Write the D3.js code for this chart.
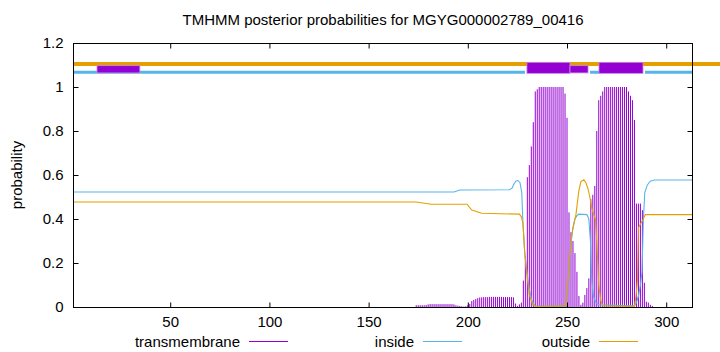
<!DOCTYPE html>
<html>
<head>
<meta charset="utf-8">
<script src="https://cdn.jsdelivr.net/npm/d3@7"></script>
<style>
  body { margin: 0; background: #fff; }
  text { font-family: "Liberation Sans", Arial, sans-serif; font-size: 15px; fill: #000; }
</style>
</head>
<body>
<script>
// chart values
const title = "TMHMM posterior probabilities for MGYG000002789_00416";
const seriesNames = ["transmembrane", "inside", "outside"];
const xTicks = [50, 100, 150, 200, 250, 300];
const yTicks = [0, 0.2, 0.4, 0.6, 0.8, 1, 1.2];

// transmembrane probability, one value per residue starting at tmStart (zero elsewhere)
const tmStart = 172;
const tmProb = [
  0, 0, 0.008, 0.008, 0.008, 0.008, 0.008, 0.009, 0.012, 0.013,
  0.013, 0.013, 0.013, 0.013, 0.013, 0.013, 0.013, 0.013, 0.013, 0.013,
  0.013, 0.012, 0.008, 0.006, 0.005, 0.003, 0.002, 0.003, 0.008, 0.014,
  0.027, 0.032, 0.036, 0.040, 0.043, 0.044, 0.045, 0.045, 0.045, 0.046,
  0.046, 0.046, 0.046, 0.046, 0.046, 0.046, 0.045, 0.045, 0.045, 0.045,
  0.045, 0.044, 0.016, 0.005, 0.012, 0.02, 0.12, 0.23, 0.59, 0.645,
  0.73, 0.84, 0.98, 0.99, 1, 1, 1, 1, 1, 1,
  1, 1, 1, 1, 1, 1, 1, 0.97, 0.86, 0.43,
  0.34, 0.30, 0.245, 0.16, 0.05, 0.01, 0.02, 0.055, 0.086, 0.13,
  0.49, 0.51, 0.55, 0.80, 0.94, 0.96, 0.98, 1, 1, 1,
  1, 1, 1, 1, 1, 1, 1, 1, 1, 0.98,
  0.96, 0.94, 0.85, 0.47, 0.47, 0.47, 0.44, 0.11, 0.024, 0.02,
  0.01, 0.005, 0
];

// inside / outside probability: [residue, probability]
const insidePts = [
  [1, 0.523], [193, 0.523], [196, 0.532], [221, 0.533], [222.3, 0.54], [223.3, 0.56],
  [224.3, 0.573], [225.3, 0.575], [226.3, 0.565], [227.2, 0.52], [227.8, 0.38],
  [228.7, 0.245], [229.5, 0.18], [230.8, 0.09], [232.2, 0.03], [234, 0.003],
  [249, 0.003], [250, 0.05], [251, 0.16], [252, 0.29], [253, 0.36], [254, 0.40],
  [255, 0.415], [256, 0.422], [260, 0.42], [261, 0.40], [261.8, 0.3], [262.5, 0.12],
  [263.3, 0.05], [264.5, 0.02], [266, 0.01], [284, 0.005], [285, 0.02], [286, 0.05],
  [287, 0.10], [287.8, 0.16], [288.5, 0.40], [289.2, 0.52], [290.5, 0.555],
  [292, 0.572], [294, 0.577], [313, 0.577]
];
const outsidePts = [
  [1, 0.477], [174, 0.477], [181.5, 0.467], [199.6, 0.467], [202, 0.441], [207, 0.426],
  [226, 0.422], [227, 0.41], [227.8, 0.38], [228.6, 0.26], [229.5, 0.17], [230.3, 0.11],
  [231, 0.055], [232.8, 0.01], [234.5, 0.002], [249.2, 0.005], [250, 0.07], [251, 0.18],
  [252, 0.30], [253, 0.36], [254.5, 0.42], [255.3, 0.48], [256, 0.53], [257, 0.57],
  [258.5, 0.578], [259.5, 0.565], [260.5, 0.54], [261.5, 0.50], [262.5, 0.45],
  [263.3, 0.425], [264.3, 0.40], [265, 0.30], [265.5, 0.20], [266, 0.10], [267, 0.03],
  [268, 0.005], [284, 0.003], [284.8, 0.05], [285.5, 0.12], [286, 0.36], [287.2, 0.38],
  [288.2, 0.395], [289.5, 0.42], [313, 0.42]
];

// predicted topology (residue ranges)
const topoOutside = [[1, 330]];
const topoInside = [[1, 228.8], [261.6, 266.1], [289.3, 313]];
const topoTMTall = [[229.8, 251.5], [266.1, 288.3]];
const topoTMShort = [[13.1, 34.7], [251.5, 260.6]];

const colors = { transmembrane: "#9400d3", inside: "#56b4e9", outside: "#e69f00" };

const W = 720, H = 352;
const svg = d3.select("body").append("svg")
    .attr("width", W)
    .attr("height", H);

const x = d3.scaleLinear().domain([1, 313]).range([73, 692]);
const y = d3.scaleLinear().domain([0, 1.2]).range([307, 43]);

// title
svg.append("text")
    .attr("x", 383)
    .attr("y", 25)
    .attr("text-anchor", "middle")
    .text(title);

// y label
svg.append("text")
    .attr("transform", "translate(22,175) rotate(-90)")
    .attr("text-anchor", "middle")
    .text("probability");

// impulses
const tmData = tmProb.map((v, i) => [tmStart + i, v]).filter(d => d[1] > 0);
svg.append("g").selectAll("line")
    .data(tmData)
    .join("line")
    .attr("x1", d => x(d[0]))
    .attr("x2", d => x(d[0]))
    .attr("y1", y(0))
    .attr("y2", d => y(d[1]))
    .attr("stroke", colors.transmembrane)
    .attr("stroke-width", 1);

// lines
const line = d3.line().x(d => x(d[0])).y(d => y(d[1]));
svg.append("path")
    .attr("d", line(insidePts))
    .attr("fill", "none")
    .attr("stroke", colors.inside)
    .attr("stroke-width", 1.1);
svg.append("path")
    .attr("d", line(outsidePts))
    .attr("fill", "none")
    .attr("stroke", colors.outside)
    .attr("stroke-width", 1.1);

// topology bars
svg.append("g").selectAll("line")
    .data(topoOutside)
    .join("line")
    .attr("x1", d => x(d[0])).attr("x2", d => x(d[1]))
    .attr("y1", y(1.105)).attr("y2", y(1.105))
    .attr("stroke", colors.outside)
    .attr("stroke-width", 4);
svg.append("g").selectAll("line")
    .data(topoInside)
    .join("line")
    .attr("x1", d => x(d[0])).attr("x2", d => x(d[1]))
    .attr("y1", y(1.067)).attr("y2", y(1.067))
    .attr("stroke", colors.inside)
    .attr("stroke-width", 3);
svg.append("g").selectAll("rect")
    .data(topoTMTall)
    .join("rect")
    .attr("x", d => x(d[0])).attr("width", d => x(d[1]) - x(d[0]))
    .attr("y", y(1.112)).attr("height", y(1.062) - y(1.112))
    .attr("fill", colors.transmembrane)
    .attr("stroke", "#c68ce8").attr("stroke-width", 0.8);
svg.append("g").selectAll("rect")
    .data(topoTMShort)
    .join("rect")
    .attr("x", d => x(d[0])).attr("width", d => x(d[1]) - x(d[0]))
    .attr("y", y(1.097)).attr("height", y(1.064) - y(1.097))
    .attr("fill", colors.transmembrane)
    .attr("stroke", "#c68ce8").attr("stroke-width", 0.8);

// frame
svg.append("rect")
    .attr("x", 73.5).attr("y", 43.5)
    .attr("width", 692 - 73).attr("height", 307 - 43)
    .attr("fill", "none")
    .attr("stroke", "#000")
    .attr("stroke-width", 1);

// axes (ticks inward, mirrored)
const yAxis = svg.append("g")
    .attr("transform", "translate(73.5,0)")
    .call(d3.axisLeft(y).tickValues(yTicks).tickSize(-5).tickPadding(10).tickFormat(d3.format("~g")));
yAxis.select(".domain").remove();
const yAxisR = svg.append("g")
    .attr("transform", "translate(692.5,0)")
    .call(d3.axisRight(y).tickValues(yTicks).tickSize(-5).tickFormat(""));
yAxisR.select(".domain").remove();
const xAxis = svg.append("g")
    .attr("transform", "translate(0,307.5)")
    .call(d3.axisBottom(x).tickValues(xTicks).tickSize(-5).tickPadding(9));
xAxis.select(".domain").remove();
const xAxisT = svg.append("g")
    .attr("transform", "translate(0,43.5)")
    .call(d3.axisTop(x).tickValues(xTicks).tickSize(-5).tickFormat(""));
xAxisT.select(".domain").remove();
svg.selectAll(".tick text")
    .style("font-family", "'Liberation Sans', Arial, sans-serif")
    .style("font-size", "15px")
    .attr("fill", "#000");
svg.selectAll(".tick line").attr("stroke", "#000");

// legend
const legendEnds = [240, 414, 590];
const legend = svg.append("g").attr("class", "legend");
seriesNames.forEach((name, i) => {
    legend.append("text")
        .attr("x", legendEnds[i])
        .attr("y", 346.5)
        .attr("text-anchor", "end")
        .text(name);
    legend.append("path")
        .attr("d", `M${legendEnds[i] + 9},341.5H${legendEnds[i] + 48}`)
        .attr("fill", "none")
        .style("stroke", colors[name])
        .attr("stroke-width", 1.2);
});
</script>
</body>
</html>
